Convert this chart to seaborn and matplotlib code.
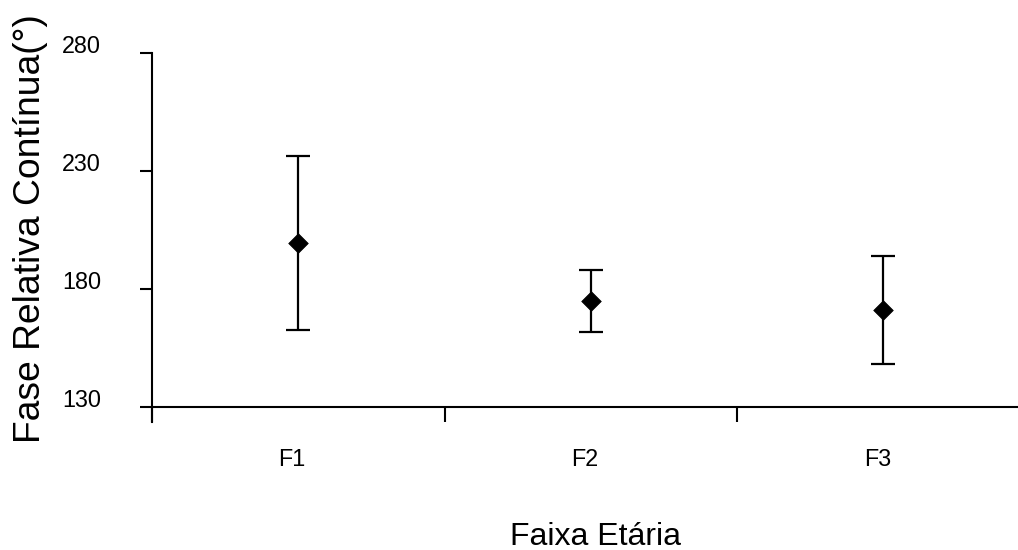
import matplotlib
matplotlib.use("Agg")
import matplotlib.pyplot as plt
import matplotlib.transforms as mtransforms
import seaborn as sns

# values (mean +/- deviation)
categories = ["F1", "F2", "F3"]
means = [199.4, 174.9, 171.0]
errors = [37.0, 13.1, 23.0]
y_ticks = [130, 180, 230, 280]

sns.set_style("ticks")
plt.rcParams["font.family"] = ["Liberation Sans", "DejaVu Sans"]
plt.rcParams["text.color"] = "black"
plt.rcParams["axes.labelcolor"] = "black"

fig = plt.figure(figsize=(10.18, 5.5), dpi=100)
ax = fig.add_axes([152 / 1018, 1 - 422 / 550, 866 / 1018, (422 - 52.7) / 550])

xpos = list(range(len(categories)))

ax.errorbar(xpos, means, yerr=errors, fmt="none", ecolor="black",
            elinewidth=1.6, capsize=8.3, capthick=1.6, zorder=2)
sns.scatterplot(x=xpos, y=means, marker="D", s=100, color="black",
                edgecolor="black", linewidth=0.5, zorder=3, ax=ax, legend=False)

ax.set_xlim(-0.5, -0.5 + 866 / 292.5)
ax.set_ylim(130 - 15.3 / 2.36, 280)

for side in ["top", "right"]:
    ax.spines[side].set_visible(False)
ax.spines["bottom"].set_position(("data", 130))
for side in ["bottom", "left"]:
    ax.spines[side].set_linewidth(1.5)
    ax.spines[side].set_color("black")

ax.set_yticks(y_ticks)
ax.set_yticklabels([str(v) for v in y_ticks])
ax.tick_params(axis="y", direction="out", length=8.6, width=1.5,
               pad=28, labelsize=16.8, colors="black")

ax.set_xticks([-0.5, 0.5, 1.5])
ax.set_xticklabels([])
ax.tick_params(axis="x", which="major", direction="out", length=10.8, width=1.5,
               colors="black")
ax.set_xticks(xpos, minor=True)
ax.set_xticklabels(categories, minor=True)
ax.tick_params(axis="x", which="minor", length=0, pad=30, labelsize=16.8,
               colors="black")

shift_y = mtransforms.ScaledTranslation(0, 0.085, fig.dpi_scale_trans)
for lab in ax.get_yticklabels():
    lab.set_transform(lab.get_transform() + shift_y)
shift_x = mtransforms.ScaledTranslation(-0.06, 0, fig.dpi_scale_trans)
for lab in ax.get_xticklabels(minor=True):
    lab.set_transform(lab.get_transform() + shift_x)

fig.text(595 / 1018, 1 - 545 / 550, "Faixa Etária", fontsize=23,
         ha="center", va="baseline", color="black")
fig.text(40 / 1018, 1 - 229 / 550, "Fase Relativa Contínua(°)", fontsize=26.8,
         rotation=90, rotation_mode="anchor", ha="center", va="baseline",
         color="black")

fig.savefig("out.png", dpi=100)
